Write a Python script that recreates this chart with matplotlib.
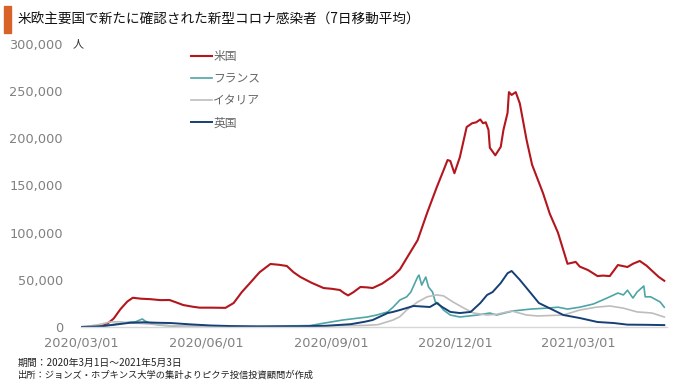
import matplotlib
matplotlib.use('Agg')
import matplotlib.pyplot as plt
import pandas as pd
from matplotlib.ticker import FixedLocator, FixedFormatter

plt.rcParams['font.family'] = ['Noto Sans CJK JP', 'DejaVu Sans']

title = "米欧主要国で新たに確認された新型コロナ感染者（7日移動平均）"
unit_label = "人"
note1 = "期間：2020年3月1日～2021年5月3日"
note2 = "出所：ジョンズ・ホプキンス大学の集計よりピクテ投信投資顧問が作成"

series_names = ["米国", "フランス", "イタリア", "英国"]
series_colors = ["#b3161d", "#4ea5a6", "#bdbdbd", "#163f75"]

us_dates = ["2020-03-01", "2020-03-10", "2020-03-15", "2020-03-20", "2020-03-25", "2020-03-30",
            "2020-04-04", "2020-04-08", "2020-04-14", "2020-04-21", "2020-04-28", "2020-05-05",
            "2020-05-10", "2020-05-15", "2020-05-22", "2020-05-27", "2020-06-05", "2020-06-15",
            "2020-06-21", "2020-06-27", "2020-07-03", "2020-07-10", "2020-07-18", "2020-07-24",
            "2020-07-30", "2020-08-04", "2020-08-09", "2020-08-17", "2020-08-26", "2020-09-01",
            "2020-09-07", "2020-09-10", "2020-09-13", "2020-09-17", "2020-09-22", "2020-09-27",
            "2020-10-01", "2020-10-08", "2020-10-16", "2020-10-21", "2020-10-26", "2020-11-03",
            "2020-11-10", "2020-11-17", "2020-11-22", "2020-11-25", "2020-11-27", "2020-11-30",
            "2020-12-04", "2020-12-09", "2020-12-13", "2020-12-16", "2020-12-19", "2020-12-21",
            "2020-12-23", "2020-12-25", "2020-12-26", "2020-12-30", "2021-01-03", "2021-01-05",
            "2021-01-08", "2021-01-09", "2021-01-11", "2021-01-14", "2021-01-17", "2021-01-22",
            "2021-01-26", "2021-02-03", "2021-02-08", "2021-02-14", "2021-02-21", "2021-02-27",
            "2021-03-02", "2021-03-08", "2021-03-15", "2021-03-19", "2021-03-24", "2021-03-30",
            "2021-04-06", "2021-04-10", "2021-04-15", "2021-04-20", "2021-04-25", "2021-04-29",
            "2021-05-03"]
us_values = [0, 150, 600, 3000, 9000, 19000,
             27000, 31000, 30000, 29500, 28500, 28600,
             26000, 23300, 21500, 20500, 20500, 20300,
             25400, 37000, 46600, 58000, 66800, 66000,
             64700, 58000, 53000, 47000, 41300, 40500,
             39200, 36000, 33500, 37000, 42400, 42000,
             41300, 46000, 54000, 61000, 73000, 92000,
             121000, 148000, 166000, 177000, 176000, 163000,
             180000, 212000, 216000, 217000, 220000, 216000,
             217000, 209000, 190000, 182000, 191000, 209000,
             227000, 249000, 246000, 249000, 237000, 198000,
             172000, 142000, 120000, 100000, 67000, 69000,
             64000, 60400, 54000, 54500, 54000, 65700,
             63600, 67000, 70000, 65000, 58300, 53000,
             49000]

fr_dates = ["2020-03-01", "2020-03-08", "2020-03-15", "2020-03-22", "2020-03-29", "2020-04-05",
            "2020-04-10", "2020-04-15", "2020-04-17", "2020-04-22", "2020-04-29", "2020-05-10",
            "2020-06-01", "2020-07-01", "2020-07-20", "2020-08-01", "2020-08-16", "2020-08-28",
            "2020-09-09", "2020-09-18", "2020-09-27", "2020-10-04", "2020-10-12", "2020-10-16",
            "2020-10-21", "2020-10-26", "2020-10-29", "2020-11-03", "2020-11-04", "2020-11-06",
            "2020-11-09", "2020-11-11", "2020-11-14", "2020-11-16", "2020-11-18", "2020-11-22",
            "2020-11-27", "2020-12-04", "2020-12-17", "2020-12-26", "2020-12-31", "2021-01-12",
            "2021-01-25", "2021-02-06", "2021-02-14", "2021-02-21", "2021-03-02", "2021-03-12",
            "2021-03-22", "2021-03-30", "2021-04-03", "2021-04-06", "2021-04-10", "2021-04-13",
            "2021-04-18", "2021-04-19", "2021-04-23", "2021-04-30", "2021-05-03"]
fr_values = [0, 200, 700, 2000, 3500, 5000,
             5500, 8500, 6300, 3500, 1800, 800,
             500, 500, 800, 1200, 1500, 4500,
             7400, 9000, 10600, 12700, 16000, 21000,
             28600, 32000, 37000, 53000, 55000, 44500,
             53000, 42400, 37000, 26500, 25400, 18000,
             12700, 10600, 12700, 14800, 12700, 17000,
             19000, 20000, 21000, 19000, 21000, 24400,
             30700, 36000, 34000, 39000, 30700, 37000,
             43500, 32000, 32000, 26500, 21000]

it_dates = ["2020-03-01", "2020-03-08", "2020-03-15", "2020-03-22", "2020-03-29", "2020-04-05",
            "2020-04-12", "2020-04-19", "2020-04-26", "2020-05-03", "2020-05-10", "2020-05-20",
            "2020-06-01", "2020-06-20", "2020-07-10", "2020-08-01", "2020-08-15", "2020-08-29",
            "2020-09-12", "2020-09-26", "2020-10-05", "2020-10-16", "2020-10-21", "2020-10-26",
            "2020-11-03", "2020-11-10", "2020-11-17", "2020-11-22", "2020-11-29", "2020-12-07",
            "2020-12-14", "2020-12-24", "2020-12-31", "2021-01-11", "2021-01-22", "2021-01-30",
            "2021-02-18", "2021-03-02", "2021-03-14", "2021-03-24", "2021-04-03", "2021-04-13",
            "2021-04-24", "2021-05-03"]
it_values = [200, 1200, 2800, 5300, 5600, 4500,
             3900, 3300, 2400, 1600, 1100, 700,
             400, 250, 200, 300, 500, 1300,
             1500, 1700, 2500, 7400, 11000, 18000,
             26500, 32000, 34000, 33000, 26500, 20000,
             14800, 12700, 13500, 17000, 12700, 11700,
             12700, 18000, 21000, 22300, 20000, 16000,
             14800, 10600]

uk_dates = ["2020-03-01", "2020-03-15", "2020-03-26", "2020-04-06", "2020-04-16", "2020-04-26",
            "2020-05-06", "2020-05-20", "2020-06-04", "2020-06-19", "2020-07-09", "2020-08-08",
            "2020-08-28", "2020-09-15", "2020-09-25", "2020-10-01", "2020-10-12", "2020-10-16",
            "2020-10-21", "2020-10-31", "2020-11-12", "2020-11-17", "2020-11-21", "2020-11-27",
            "2020-12-04", "2020-12-12", "2020-12-19", "2020-12-24", "2020-12-28", "2021-01-03",
            "2021-01-08", "2021-01-11", "2021-01-17", "2021-01-25", "2021-01-31", "2021-02-06",
            "2021-02-18", "2021-03-02", "2021-03-15", "2021-03-27", "2021-04-06", "2021-04-21",
            "2021-05-03"]
uk_values = [0, 600, 2500, 4500, 5000, 4500,
             4200, 2800, 1600, 1000, 600, 800,
             1300, 3000, 5500, 7400, 14800, 16000,
             18000, 22300, 21200, 25400, 21200, 16000,
             14800, 16000, 25400, 34000, 37000, 46600,
             57000, 59400, 50000, 36000, 25400, 21200,
             12700, 9500, 5300, 4200, 2500, 2300,
             2000]

xtick_dates = ["2020-03-01", "2020-06-01", "2020-09-01", "2020-12-01", "2021-03-01"]
xtick_labels = ["2020/03/01", "2020/06/01", "2020/09/01", "2020/12/01", "2021/03/01"]
ytick_values = [0, 50000, 100000, 150000, 200000, 250000, 300000]
ytick_labels = ["0", "50,000", "100,000", "150,000", "200,000", "250,000", "300,000"]

W, H = 680, 387
fig = plt.figure(figsize=(W / 100, H / 100), dpi=100)
ax = fig.add_axes([81 / W, (H - 327) / H, (667 - 81) / W, (327 - 44) / H])

all_dates = [us_dates, fr_dates, it_dates, uk_dates]
all_values = [us_values, fr_values, it_values, uk_values]
widths = [1.5, 1.2, 1.2, 1.4]
for name, d, v, c, lw in zip(series_names, all_dates, all_values, series_colors, widths):
    ax.plot(pd.to_datetime(d), v, color=c, lw=lw, label=name, solid_joinstyle='round')

ax.set_xlim(pd.Timestamp("2020-03-01"), pd.Timestamp("2021-05-05"))
ax.set_ylim(0, 300000)
for s in ["top", "right", "left"]:
    ax.spines[s].set_visible(False)
ax.spines["bottom"].set_color("#d6d6d6")
ax.spines["bottom"].set_linewidth(1.0)

ax.xaxis.set_major_locator(FixedLocator([matplotlib.dates.date2num(t) for t in pd.to_datetime(xtick_dates)]))
ax.xaxis.set_major_formatter(FixedFormatter(xtick_labels))
ax.yaxis.set_major_locator(FixedLocator(ytick_values))
ax.yaxis.set_major_formatter(FixedFormatter(ytick_labels))
ax.tick_params(axis='both', length=0, colors="#808080", labelsize=9.3)
ax.tick_params(axis='x', pad=7)
ax.tick_params(axis='y', pad=13)
for lab in ax.get_xticklabels() + ax.get_yticklabels():
    lab.set_fontfamily("DejaVu Sans")

leg = ax.legend(loc="upper left", bbox_to_anchor=(191 / W, 1 - 50 / H), bbox_transform=fig.transFigure,
                frameon=False, fontsize=8.5, handlelength=1.75, handletextpad=0.15,
                labelspacing=0.78, borderpad=0, borderaxespad=0)
for t in leg.get_texts():
    t.set_color("#666666")

fig.text(78 / W, 1 - 44 / H, unit_label, fontsize=8, color="#333333", ha="center", va="center")

fig.patches.append(plt.Rectangle((4 / W, 1 - 33 / H), 7 / W, 27 / H, transform=fig.transFigure,
                                 color="#d9622b", figure=fig))
fig.text(18 / W, 1 - 20 / H, title, fontsize=9.8, color="#111111", ha="left", va="center")
fig.text(18 / W, 1 - 363 / H, note1, fontsize=7.1, color="#222222", ha="left", va="center")
fig.text(18 / W, 1 - 375 / H, note2, fontsize=6.7, color="#222222", ha="left", va="center")

fig.savefig("out.png", dpi=100)
